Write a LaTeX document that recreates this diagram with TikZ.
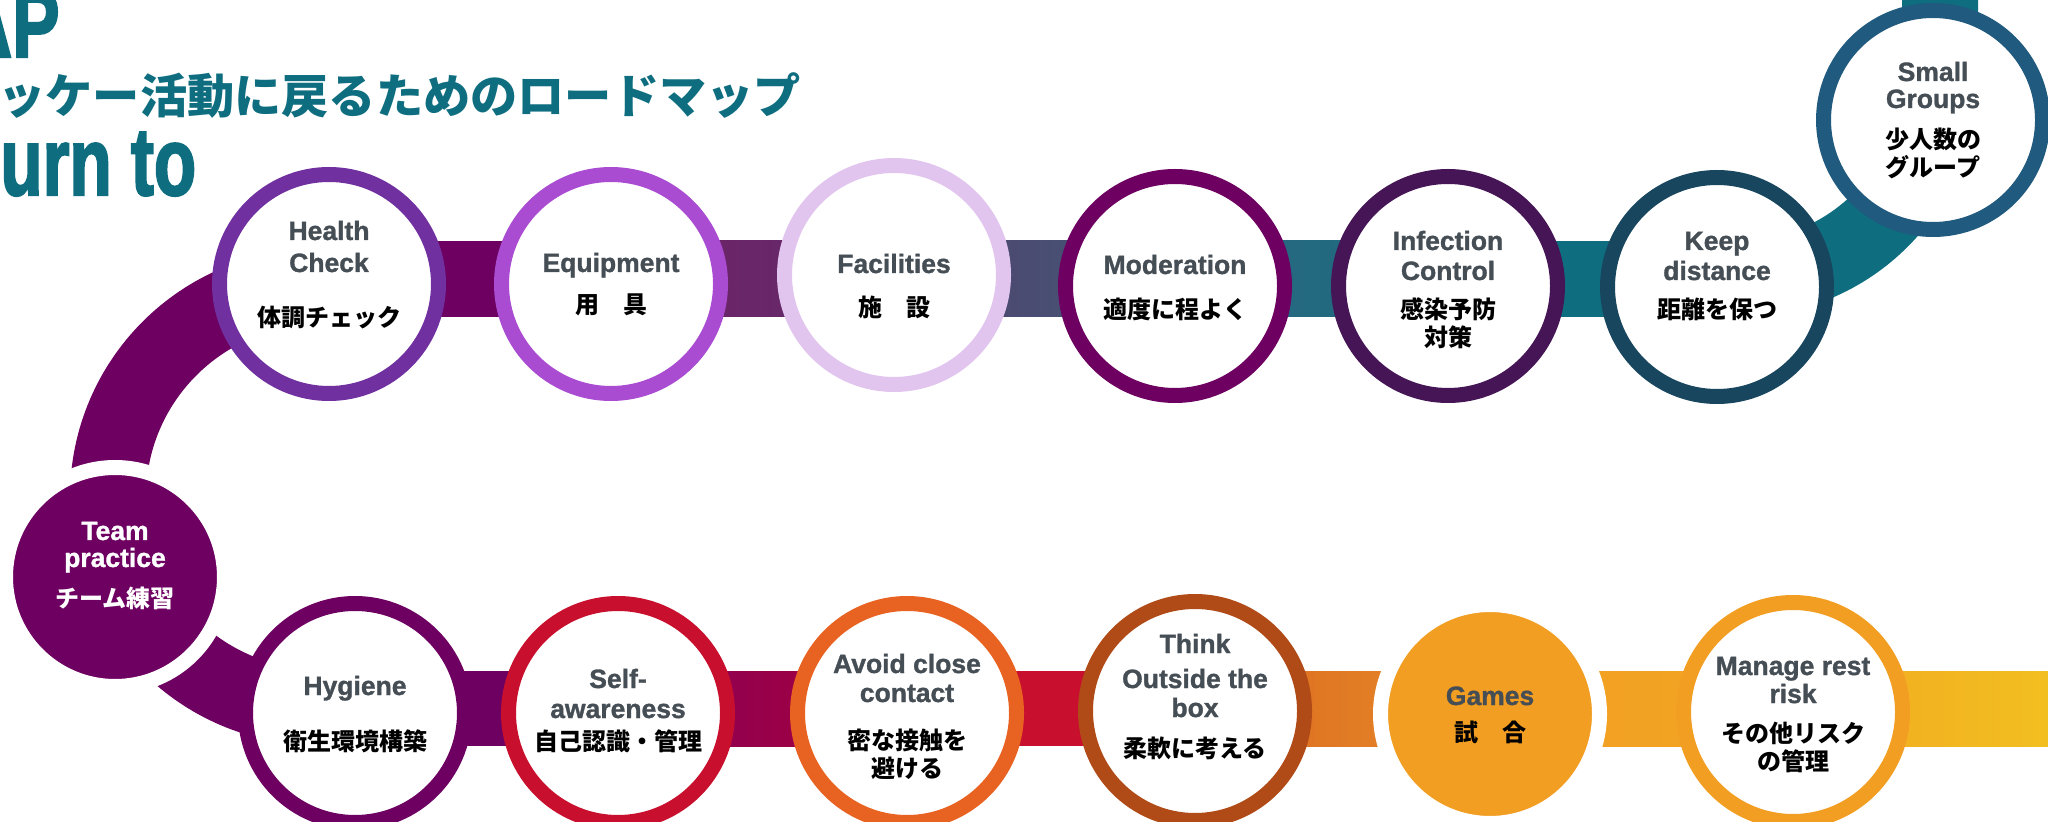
\documentclass[tikz,border=0pt]{standalone}
\usepackage{fontspec}
\setmainfont{Liberation Sans}
\newfontfamily\labfont{Liberation Sans}[FakeBold=1.2]
\newfontfamily\heavyfont{Liberation Sans}[FakeBold=2.5]
\newfontfamily\cjk{Noto Sans CJK JP}
\definecolor{teal1}{HTML}{0E6E80}
\definecolor{plum}{HTML}{6E0062}
\definecolor{txtgray}{HTML}{464E55}
\definecolor{cHealth}{HTML}{7030A0}
\definecolor{cEquip}{HTML}{AA4CD2}
\definecolor{cFac}{HTML}{E2C5EE}
\definecolor{cInf}{HTML}{461555}
\definecolor{cKeep}{HTML}{18465E}
\definecolor{cSmall}{HTML}{205A7E}
\definecolor{cSelf}{HTML}{C8102E}
\definecolor{cAvoid}{HTML}{E86222}
\definecolor{cThink}{HTML}{B04A17}
\definecolor{cGames}{HTML}{F29E22}
\definecolor{gA1}{HTML}{6E2266}
\definecolor{gA2}{HTML}{642A6A}
\definecolor{gB1}{HTML}{55406E}
\definecolor{gB2}{HTML}{3E5A75}
\definecolor{gC1}{HTML}{2C6680}
\definecolor{gC2}{HTML}{1A6C80}
\definecolor{gD1}{HTML}{870058}
\definecolor{gD2}{HTML}{A8003C}
\definecolor{gE1}{HTML}{DC6820}
\definecolor{gE2}{HTML}{E68C28}
\definecolor{gF1}{HTML}{F29E22}
\definecolor{gF2}{HTML}{F2A622}
\definecolor{gG1}{HTML}{F2A822}
\definecolor{gG2}{HTML}{F2C020}
\begin{document}
\begin{tikzpicture}[x=0.5pt,y=-0.5pt,
  ringnode/.style={circle, inner sep=0pt, minimum size=109.5pt, line width=7.5pt, draw=#1, fill=white},
  solidnode/.style={circle, inner sep=0pt, minimum size=109.5pt, line width=7.5pt, draw=white, fill=#1},
  en/.style={font=\labfont\fontsize{13.25pt}{15pt}\selectfont\bfseries, text=txtgray, inner sep=0pt, anchor=base},
  jp/.style={font=\cjk\fontsize{12pt}{14pt}\selectfont\bfseries, text=black, inner sep=0pt, anchor=base},
  bigtitle/.style={font=\heavyfont\fontsize{48pt}{50pt}\selectfont\bfseries, text=teal1, inner sep=0pt}]
\useasboundingbox (0,0) rectangle (2048,822);
\clip (0,0) rectangle (2048,822);
\fill[white] (0,0) rectangle (2048,822);

% title
\node[bigtitle, anchor=base east] (t1) at (60,57) {\scalebox{0.74}[1]{AP}};
\node[font=\cjk\bfseries\fontsize{23.6pt}{26pt}\selectfont, text=teal1, inner sep=0pt, anchor=base west] (t2) at (-2,114) {ッケー活動に戻るためのロードマップ};
\node[bigtitle, anchor=base west] (t3) at (0,195) {\scalebox{0.72}[1]{urn to}};

% top bars
\fill[plum] (329,241) rectangle (611,317);
\shade[left color=gA1, right color=gA2] (611,241) rectangle (894,317);
\shade[left color=gB1, right color=gB2] (894,241) rectangle (1175,317);
\shade[left color=gC1, right color=gC2] (1175,241) rectangle (1448,317);
\fill[teal1] (1448,241) rectangle (1740,317);
% teal arc up to small groups
\draw[teal1, line width=38pt] (1738,279) arc[start angle=90, end angle=0, radius=202] -- (1940,-20);
% purple arc on the left
\draw[plum, line width=38pt] (318,287) arc[start angle=270, end angle=90, radius=210];

% bottom bars
\fill[plum] (355,671) rectangle (618,746);
\shade[left color=gD1, right color=gD2] (618,671) rectangle (907,746);
\fill[cSelf] (907,671) rectangle (1195,746);
\shade[left color=gE1, right color=gE2] (1195,671) rectangle (1490,746);
\shade[left color=gF1, right color=gF2] (1490,671) rectangle (1793,746);
\shade[left color=gG1, right color=gG2] (1793,671) rectangle (2060,746);

% circles top row
\node[ringnode=cHealth] (hc) at (329,284) {};
\node[ringnode=cEquip] (eq) at (611,284) {};
\node[ringnode=cFac] (fa) at (894,275) {};
\node[ringnode=plum] (mo) at (1175,286) {};
\node[ringnode=cInf] (ic) at (1448,286) {};
\node[ringnode=cKeep] (kd) at (1717,287) {};
\node[ringnode=cSmall] (sg) at (1933,120) {};
% team practice
\node[solidnode=plum] (tp) at (115,577) {};
% bottom row
\node[ringnode=plum] (hy) at (355,713) {};
\node[ringnode=cSelf] (sa) at (618,713) {};
\node[ringnode=cAvoid] (ac) at (907,713) {};
\node[ringnode=cThink] (to) at (1195,711) {};
\node[solidnode=cGames] (ga) at (1490,714) {};
\node[ringnode=cGames] (mr) at (1793,712) {};

% labels top row
\node[en] (hc1) at (329,240) {Health};
\node[en] (hc2) at (329,272) {Check};
\node[jp] (hc3) at (329,327) {体調チェック};
\node[en] (eq1) at (611,272) {Equipment};
\node[jp] (eq2) at (611,314) {用　具};
\node[en] (fa1) at (894,273) {Facilities};
\node[jp] (fa2) at (894,317) {施　設};
\node[en] (mo1) at (1175,274) {Moderation};
\node[jp] (mo2) at (1175,319) {適度に程よく};
\node[en] (ic1) at (1448,250) {Infection};
\node[en] (ic2) at (1448,280) {Control};
\node[jp] (ic3) at (1448,319) {感染予防};
\node[jp] (ic4) at (1448,347) {対策};
\node[en] (kd1) at (1717,250) {Keep};
\node[en] (kd2) at (1717,280) {distance};
\node[jp] (kd3) at (1717,319) {距離を保つ};
\node[en] (sg1) at (1933,81) {Small};
\node[en] (sg2) at (1933,108) {Groups};
\node[jp] (sg3) at (1933,149) {少人数の};
\node[jp] (sg4) at (1933,177) {グループ};
% team practice
\node[en, text=white] (tp1) at (115,540) {Team};
\node[en, text=white] (tp2) at (115,567) {practice};
\node[jp, text=white] (tp3) at (115,607) {チーム練習};
% bottom row labels
\node[en] (hy1) at (355,695) {Hygiene};
\node[jp] (hy2) at (355,750) {衛生環境構築};
\node[en] (sa1) at (618,688) {Self-};
\node[en] (sa2) at (618,718) {awareness};
\node[jp] (sa3) at (618,750) {自己認識・管理};
\node[en] (ac1) at (907,673) {Avoid close};
\node[en] (ac2) at (907,702) {contact};
\node[jp] (ac3) at (907,749) {密な接触を};
\node[jp] (ac4) at (907,777) {避ける};
\node[en] (to1) at (1195,653) {Think};
\node[en] (to2) at (1195,688) {Outside the};
\node[en] (to3) at (1195,717) {box};
\node[jp] (to4) at (1195,757) {柔軟に考える};
\node[en] (ga1) at (1490,705) {Games};
\node[jp] (ga2) at (1490,741) {試　合};
\node[en] (mr1) at (1793,675) {Manage rest};
\node[en] (mr2) at (1793,703) {risk};
\node[jp] (mr3) at (1793,742) {その他リスク};
\node[jp] (mr4) at (1793,770) {の管理};
\end{tikzpicture}
\end{document}
